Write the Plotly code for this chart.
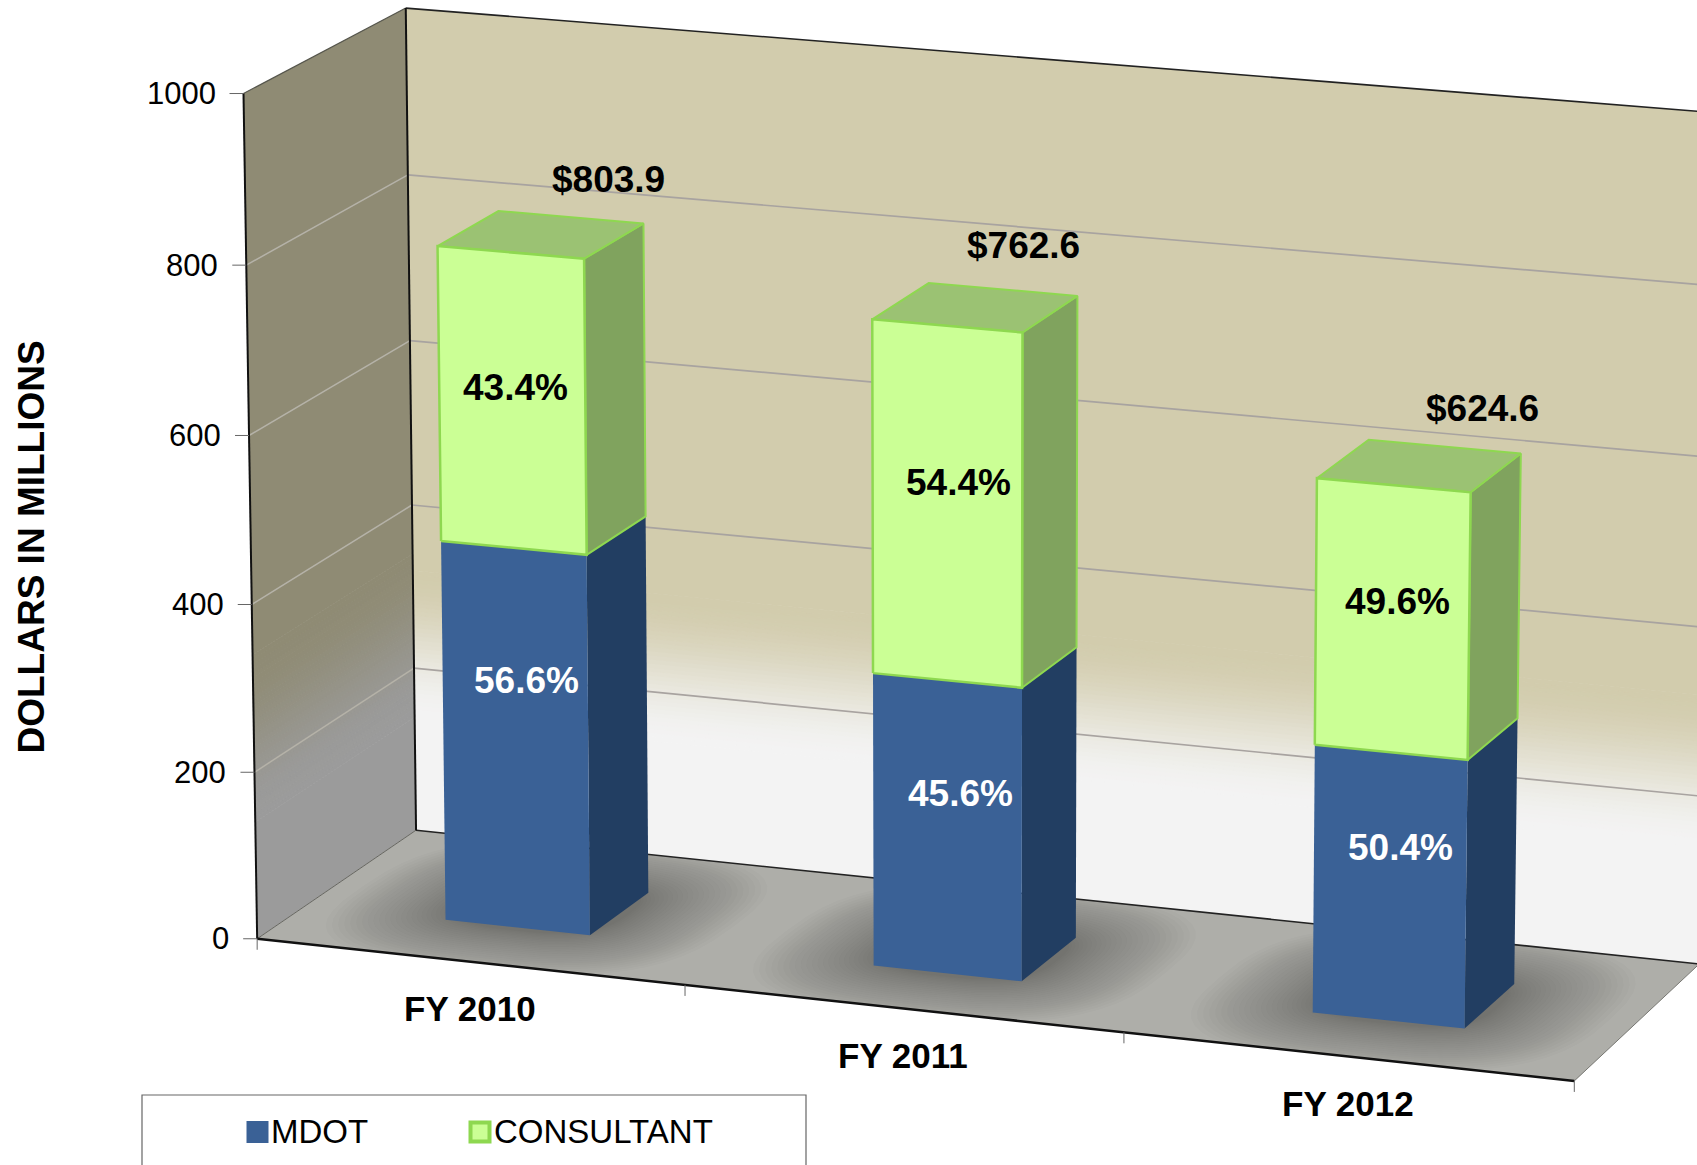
import numpy as np
import plotly.graph_objects as go

# ---------- data ----------
CATEGORIES = ["FY 2010", "FY 2011", "FY 2012"]
MDOT = [455.0, 347.8, 314.8]
CONSULTANT = [348.9, 414.8, 309.8]
TOTAL_LABELS = ["$803.9", "$762.6", "$624.6"]
MDOT_PCT = ["56.6%", "45.6%", "50.4%"]
CONSULTANT_PCT = ["43.4%", "54.4%", "49.6%"]
VALUE_TICKS = [0, 200, 400, 600, 800, 1000]
AXIS_TITLE = "DOLLARS IN MILLIONS"
SERIES_NAMES = ["MDOT", "CONSULTANT"]

# label anchors in chart units (offset along the category, value level)
MDOT_LABEL_U = [0.5275, 0.53, 0.522]
MDOT_LABEL_V = [298, 216, 205]
CONS_LABEL_U = [0.507, 0.525, 0.51]
CONS_LABEL_V = [645, 581, 491]
TOTAL_LABEL_U = [0.59, 0.5475, 0.5825]
TOTAL_LABEL_V = [49, 54, 48]

# ---------- colours ----------
BLUE, BLUE_SIDE = "#3A6196", "#223E62"
GREEN, GREEN_SIDE, GREEN_TOP, GREEN_EDGE = "#CBFF95", "#80A35E", "#9BC273", "#8ED850"
WALL_TAN, WALL_PALE = (210, 204, 173), (243, 243, 243)
SIDE_TAN, SIDE_GREY = (143, 139, 116), (155, 155, 155)
FLOOR = "#AEAEA9"
W, H = 1697, 1165

# ---------- oblique perspective of the 3-D chart box ----------
# (category position, value / 1000, depth 0..1) -> page position
CAL = [((0, 0, 0), (257.6, 938.4)), ((0, 1, 0), (243.5, 94)),
       ((0, 0.2, 0), (254.8, 771.7)), ((0, 0.4, 0), (252, 602.8)),
       ((0, 0.6, 0), (249.2, 435)), ((0, 0.8, 0), (246.3, 264)),
       ((0, 0, 1), (415.6, 831)), ((0, 1, 1), (404.8, 8.7)),
       ((0, 0.2, 1), (414, 669)), ((0, 0.4, 1), (412, 504.4)),
       ((0, 0.6, 1), (410, 341)), ((0, 0.8, 1), (408, 175.3)),
       ((1, 0, 0), (685, 986)), ((2, 0, 0), (1124, 1034)),
       ((3, 0, 0), (1573, 1082)), ((3, 0, 1), (1700, 961)),
       ((3, 1, 1), (1714, 113))]
rows = []
for (a, b, c), (x, y) in CAL:
    x, y = x / 1000, y / 1000
    rows.append([a, b, c, 1, 0, 0, 0, 0, -x * a, -x * b, -x * c, -x])
    rows.append([0, 0, 0, 0, a, b, c, 1, -y * a, -y * b, -y * c, -y])
P = np.linalg.svd(np.array(rows, float))[2][-1].reshape(3, 4)


def proj(u, v, w):
    q = P @ np.array([u, v / 1000, w, 1.0])
    return q[0] / q[2] * 1000, q[1] / q[2] * 1000


fig = go.Figure()


def poly(pts3, color, line=None, lw=0):
    xy = [proj(*p) for p in pts3]
    xs = [a for a, _ in xy] + [xy[0][0]]
    ys = [b for _, b in xy] + [xy[0][1]]
    fig.add_trace(go.Scatter(x=xs, y=ys, mode="lines", fill="toself", fillcolor=color,
                             line=dict(color=line or color, width=lw if line else 0),
                             hoverinfo="skip", showlegend=False))


def seg(p, q, color, width, dash=None):
    a, b = proj(*p), proj(*q)
    fig.add_trace(go.Scatter(x=[a[0], b[0]], y=[a[1], b[1]], mode="lines",
                             line=dict(color=color, width=width, dash=dash),
                             hoverinfo="skip", showlegend=False))


def mix(c0, c1, t):
    t = t * t * (3 - 2 * t)
    return "rgb(%d,%d,%d)" % tuple(round(a + (b - a) * t) for a, b in zip(c0, c1))


# walls with their vertical colour fade
UMAX = 3.0
STEPS = 36
LOW, HIGH = 140.0, 320.0
SIDE_HIGH = 340.0
poly([(0, HIGH, 1), (UMAX, HIGH, 1), (UMAX, 1000, 1), (0, 1000, 1)], mix(WALL_TAN, WALL_TAN, 0))
poly([(0, 0, 1), (UMAX, 0, 1), (UMAX, LOW, 1), (0, LOW, 1)], mix(WALL_PALE, WALL_PALE, 0))
poly([(0, SIDE_HIGH, 0), (0, SIDE_HIGH, 1), (0, 1000, 1), (0, 1000, 0)], mix(SIDE_TAN, SIDE_TAN, 0))
poly([(0, 0, 0), (0, 0, 1), (0, LOW, 1), (0, LOW, 0)], mix(SIDE_GREY, SIDE_GREY, 0))
for i in range(STEPS):
    a = LOW + (HIGH - LOW) * i / STEPS
    b = LOW + (HIGH - LOW) * (i + 1) / STEPS
    c = mix(WALL_PALE, WALL_TAN, (i + 0.5) / STEPS)
    poly([(0, a, 1), (UMAX, a, 1), (UMAX, b, 1), (0, b, 1)], c, c, 1)
    a2 = LOW + (SIDE_HIGH - LOW) * i / STEPS
    b2 = LOW + (SIDE_HIGH - LOW) * (i + 1) / STEPS
    c2 = mix(SIDE_GREY, SIDE_TAN, (i + 0.5) / STEPS)
    poly([(0, a2, 0), (0, a2, 1), (0, b2, 1), (0, b2, 0)], c2, c2, 1)

# floor
poly([(0, 0, 0), (UMAX, 0, 0), (UMAX, 0, 1), (0, 0, 1)], FLOOR)

BAR_HALF = 0.17
W0, W1 = 0.305, 0.69

# soft shadows on the floor round each bar
LAYERS = 26
theta = np.linspace(0, 2 * np.pi, 49)[:-1]
for i in range(len(CATEGORIES)):
    uc = i + 0.5
    for k in range(LAYERS):
        e = 0.02 + 0.25 * ((LAYERS - 1 - k) / (LAYERS - 1)) ** 1.2
        ru = BAR_HALF + e
        rw = (W1 - W0) / 2 + e * 1.35
        pts = []
        for t in theta:
            cu = np.sign(np.cos(t)) * abs(np.cos(t)) ** 0.7
            cw = np.sign(np.sin(t)) * abs(np.sin(t)) ** 0.7
            pts.append((float(np.clip(uc + ru * cu, 0, UMAX)), 0,
                        float(np.clip(0.5 + rw * cw, 0, 1))))
        poly(pts, "rgba(45,45,42,0.021)")

# gridlines
for v in VALUE_TICKS[1:-1]:
    seg((0, v, 0), (0, v, 1), "#B5B2A8", 1.5)
    seg((0, v, 1), (UMAX, v, 1), "#A8A3A0", 1.7)

# frame
seg((0, 1000, 0), (0, 1000, 1), "#55554C", 1.2)
seg((0, 1000, 1), (UMAX, 1000, 1), "#222222", 1.6)
seg((0, 0, 1), (UMAX, 0, 1), "#222222", 1.6)
seg((0, 0, 0), (0, 0, 1), "#666660", 1)
seg((UMAX, 0, 0), (UMAX, 0, 1), "#777772", 1)
seg((0, 0, 1), (0, 1000, 1), "#111111", 2)
seg((0, 0, 0), (0, 1000, 0), "#111111", 2)
seg((0, 0, 0), (UMAX, 0, 0), "#111111", 2.5)

# ticks
for v in VALUE_TICKS:
    x, y = proj(0, v, 0)
    fig.add_trace(go.Scatter(x=[x - 14, x], y=[y, y], mode="lines",
                             line=dict(color="#666666", width=1),
                             hoverinfo="skip", showlegend=False))
for t in range(4):
    x, y = proj(t, 0, 0)
    fig.add_trace(go.Scatter(x=[x, x], y=[y, y + 11], mode="lines",
                             line=dict(color="#666666", width=1),
                             hoverinfo="skip", showlegend=False))

# stacked 3-D bars
for i in range(len(CATEGORIES)):
    a, b = i + 0.5 - BAR_HALF, i + 0.5 + BAR_HALF
    m, tot = MDOT[i], MDOT[i] + CONSULTANT[i]
    poly([(b, 0, W0), (b, 0, W1), (b, m, W1), (b, m, W0)], BLUE_SIDE)
    poly([(a, 0, W0), (b, 0, W0), (b, m, W0), (a, m, W0)], BLUE)
    poly([(b, m, W0), (b, m, W1), (b, tot, W1), (b, tot, W0)], GREEN_SIDE, GREEN_EDGE, 2)
    poly([(a, tot, W0), (b, tot, W0), (b, tot, W1), (a, tot, W1)], GREEN_TOP, GREEN_EDGE, 2)
    poly([(a, m, W0), (b, m, W0), (b, tot, W0), (a, tot, W0)], GREEN, GREEN_EDGE, 2.5)

# ---------- text ----------
FONT = "Liberation Sans, Arial, sans-serif"


def label(x, y, text, size, color="#000000", bold=False, anchor="center", angle=0):
    fig.add_annotation(x=x, y=y, xref="x", yref="y", text=f"<b>{text}</b>" if bold else text,
                       showarrow=False, xanchor=anchor, yanchor="middle", textangle=angle,
                       font=dict(family=FONT, size=size, color=color))


for i, cat in enumerate(CATEGORIES):
    tot = MDOT[i] + CONSULTANT[i]
    x, y = proj(i + 0.5, 0, 0)
    label(x, y + 47, cat, 35, bold=True)
    x, y = proj(i + TOTAL_LABEL_U[i], tot + TOTAL_LABEL_V[i], W1)
    label(x, y, TOTAL_LABELS[i], 37, bold=True)
    x, y = proj(i + CONS_LABEL_U[i], CONS_LABEL_V[i], W0)
    label(x, y, CONSULTANT_PCT[i], 37, bold=True)
    x, y = proj(i + MDOT_LABEL_U[i], MDOT_LABEL_V[i], W0)
    label(x, y, MDOT_PCT[i], 37, color="#FFFFFF", bold=True)

for v in VALUE_TICKS:
    x, y = proj(0, v, 0)
    label(x - 26, y, str(v), 31, anchor="right")

label(30.5, 547, AXIS_TITLE, 37, bold=True, angle=-90)

# ---------- legend ----------
fig.add_shape(type="rect", x0=142, x1=806, y0=1095, y1=1200, xref="x", yref="y",
              line=dict(color="#666666", width=1.2), fillcolor="rgba(0,0,0,0)")
fig.add_trace(go.Scatter(x=[257.5], y=[1132], mode="markers", name=SERIES_NAMES[0], showlegend=False,
                         marker=dict(symbol="square", size=22, color=BLUE), hoverinfo="skip"))
fig.add_trace(go.Scatter(x=[480], y=[1132], mode="markers", name=SERIES_NAMES[1], showlegend=False,
                         marker=dict(symbol="square", size=19, color=GREEN,
                                     line=dict(color=GREEN_EDGE, width=4)), hoverinfo="skip"))
label(269, 1131, SERIES_NAMES[0], 33, anchor="left")
label(491.5, 1131, SERIES_NAMES[1], 33, anchor="left")

fig.update_layout(width=W, height=H, autosize=False, margin=dict(l=0, r=0, t=0, b=0),
                  paper_bgcolor="#FFFFFF", plot_bgcolor="#FFFFFF", showlegend=False,
                  xaxis=dict(range=[0, W], visible=False, fixedrange=True),
                  yaxis=dict(range=[H, 0], visible=False, fixedrange=True))
fig.write_html("out.html", config={"displayModeBar": False},
               post_script="document.body.style.margin='0';document.documentElement.style.overflow='hidden';")
